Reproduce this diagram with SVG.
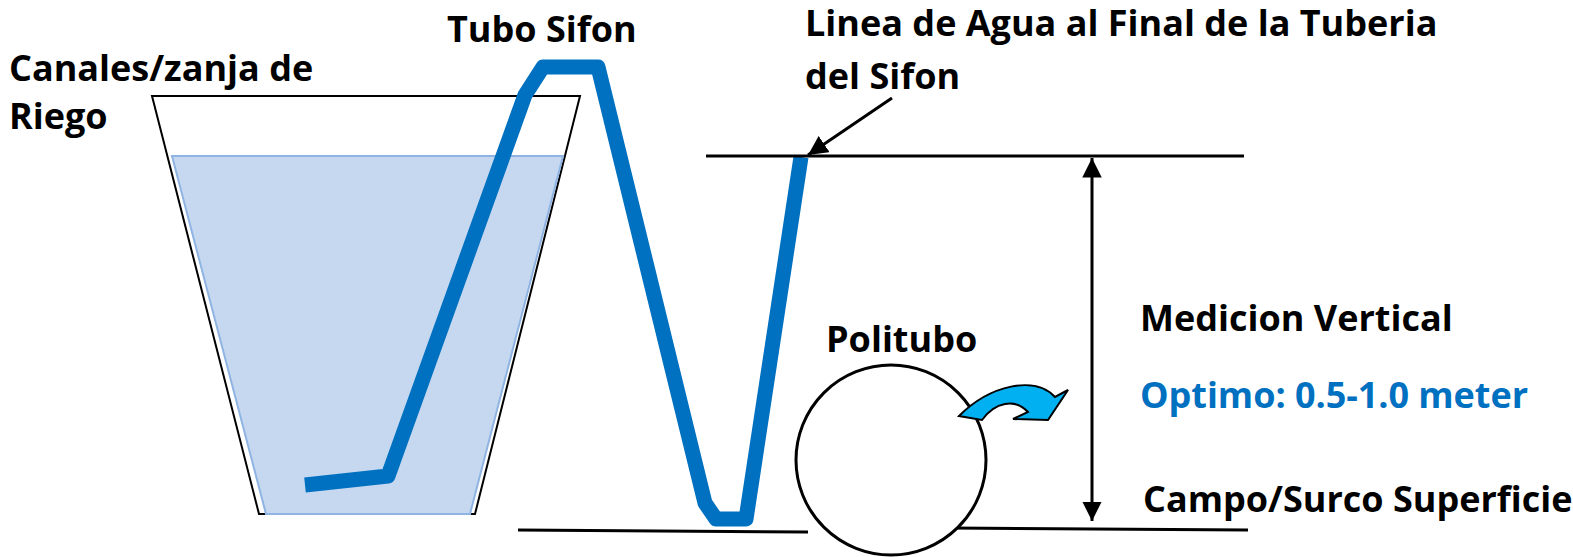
<svg xmlns="http://www.w3.org/2000/svg" width="1573" height="557" viewBox="0 0 1573 557">
<style>
.t{font-family:"Open Sans","Liberation Sans",sans-serif;font-weight:bold;font-size:36px;fill:#000}
.b{fill:#0070C0}
.ln{stroke:#000;stroke-width:3;fill:none}
</style>
<defs>
<marker id="ah" viewBox="0 0 10 10" refX="10" refY="5" markerWidth="6.5" markerHeight="6.5" markerUnits="strokeWidth" orient="auto-start-reverse">
<path d="M0,0 L10,5 L0,10 Z" fill="#000"/>
</marker>
</defs>
<rect width="1573" height="557" fill="#fff"/>
<g id="canal">
<polygon points="152,96 580,96 475,514 259,514" fill="#fff" stroke="#000" stroke-width="2"/>
<polygon points="172,156 563,156 470,514 266,514" fill="#C5D8EF" stroke="#8FB4E3" stroke-width="2"/>
</g>
<g id="sifon">
<polyline points="305,485 388,476 525,95 543,67 598,67 705,503 716,519 746,519 801,157" fill="none" stroke="#0070C0" stroke-width="15" stroke-linejoin="round"/>
</g>
<g id="lines">
<line class="ln" x1="518" y1="530" x2="808" y2="532"/>
<line class="ln" x1="706" y1="156" x2="1244" y2="156"/>
<line class="ln" x1="950" y1="528" x2="1248" y2="530"/>
</g>
<g id="politubo">
<circle cx="891" cy="460" r="95" fill="#fff" stroke="#000" stroke-width="3"/>
<text class="t" x="826" y="352">Politubo</text>
</g>
<g id="flow-arrow">
<path d="M959,416 C990,385 1035,375 1055,397 L1068,390 L1048,420 L1013,419 L1028,412 C1015,398 995,402 982,420 Z" fill="#00B0F0" stroke="#000" stroke-width="2" stroke-linejoin="miter"/>
</g>
<g id="connectors">
<line x1="892" y1="98" x2="808" y2="155" stroke="#000" stroke-width="3" marker-end="url(#ah)"/>
<line x1="1092" y1="158" x2="1092" y2="521" stroke="#000" stroke-width="3" marker-start="url(#ah)" marker-end="url(#ah)"/>
</g>
<g id="labels">
<text class="t" x="447" y="42">Tubo Sifon</text>
<text class="t" x="9" y="81">Canales/zanja de</text>
<text class="t" x="9" y="129">Riego</text>
<text class="t" x="805" y="36">Linea de Agua al Final de la Tuberia</text>
<text class="t" x="805" y="89">del Sifon</text>
<text class="t" x="1140" y="331">Medicion Vertical</text>
<text class="t b" x="1140" y="408" textLength="388">Optimo: 0.5-1.0 meter</text>
<text class="t" x="1143" y="512">Campo/Surco Superficie</text>
</g>
</svg>
